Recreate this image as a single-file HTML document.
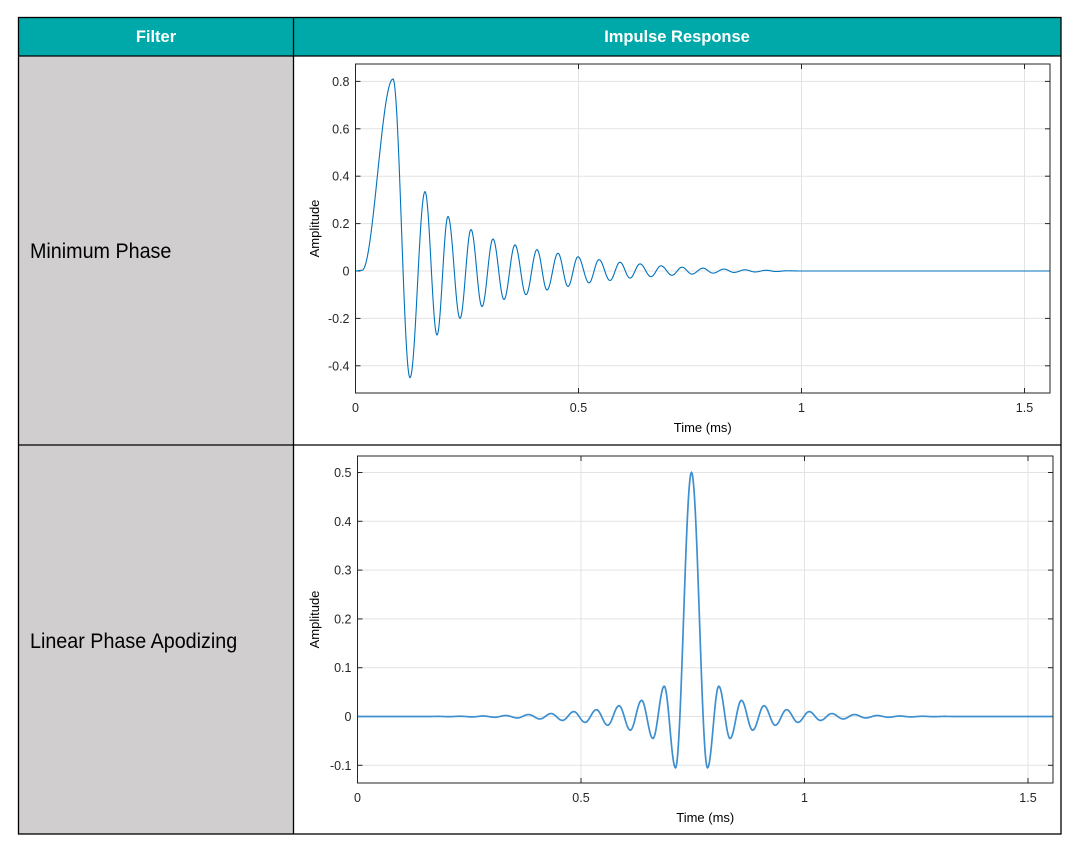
<!DOCTYPE html>
<html><head><meta charset="utf-8"><style>
body{margin:0;background:#fff;width:1078px;height:855px;overflow:hidden}
svg text{font-family:"Liberation Sans",Arial,sans-serif}
</style></head><body>
<svg id="s" width="1078" height="855" xmlns="http://www.w3.org/2000/svg">
<rect x="18" y="56" width="275" height="778" fill="#d0cece"/>
<rect x="18" y="17" width="1043" height="39" fill="#00a9a9"/>
<g stroke="#000" stroke-width="1.3" fill="none">
<rect x="18.5" y="17.5" width="1042.5" height="816.5"/>
<line x1="18" y1="56" x2="1061" y2="56"/>
<line x1="18" y1="445" x2="1061" y2="445"/>
<line x1="293.5" y1="17" x2="293.5" y2="834"/>
</g>
<text x="156" y="42" fill="#fff" font-size="17" font-weight="bold" text-anchor="middle" transform="translate(156 0) scale(0.97 1) translate(-156 0)">Filter</text>
<text x="677" y="42" fill="#fff" font-size="17" font-weight="bold" text-anchor="middle" transform="translate(677 0) scale(0.97 1) translate(-677 0)">Impulse Response</text>
<text x="30" y="258" font-size="21" fill="#000" transform="translate(30 0) scale(0.94 1) translate(-30 0)">Minimum Phase</text>
<text x="30" y="648" font-size="21" fill="#000" transform="translate(30 0) scale(0.94 1) translate(-30 0)">Linear Phase Apodizing</text>
<g id="p1"></g><g id="p2"></g>
</svg>
<script>
var NS="http://www.w3.org/2000/svg";
function el(p,t,a,txt){var e=document.createElementNS(NS,t);for(var k in a)e.setAttribute(k,a[k]);if(txt!=null)e.textContent=txt;p.appendChild(e);return e;}
function plot(g,L,T,R,B,x0,pxms,y0,pyu,yt,ylab,pts,col,sw){
 var xt=[0,0.5,1,1.5];
 xt.forEach(function(v){var x=x0+v*pxms;el(g,'line',{x1:x,y1:T,x2:x,y2:B,stroke:'#e3e3e3'});
  el(g,'line',{x1:x,y1:B,x2:x,y2:B-5,stroke:'#262626'});el(g,'line',{x1:x,y1:T,x2:x,y2:T+5,stroke:'#262626'});
  el(g,'text',{x:x,y:B+19,'font-size':12.5,'text-anchor':'middle',fill:'#262626'},v);});
 yt.forEach(function(v){var y=y0-v*pyu;el(g,'line',{x1:L,y1:y,x2:R,y2:y,stroke:'#e3e3e3'});
  el(g,'line',{x1:L,y1:y,x2:L+5,y2:y,stroke:'#262626'});el(g,'line',{x1:R,y1:y,x2:R-5,y2:y,stroke:'#262626'});
  el(g,'text',{x:L-6,y:y+4.5,'font-size':12.5,'text-anchor':'end',fill:'#262626'},ylab(v));});
 var d='M'+L+' '+(y0);
 for(var x=L;x<=R;x+=0.5){var v=0;
  for(var i=0;i<pts.length-1;i++){if(x>=pts[i][0]&&x<=pts[i+1][0]){var f=(x-pts[i][0])/(pts[i+1][0]-pts[i][0]);f=(1-Math.cos(Math.PI*f))/2;v=pts[i][1]+(pts[i+1][1]-pts[i][1])*f;break;}}
  d+=' L'+x+' '+(y0-v*pyu).toFixed(2);}
 el(g,'path',{d:d,fill:'none',stroke:col,'stroke-width':sw});
 el(g,'rect',{x:L,y:T,width:R-L,height:B-T,fill:'none',stroke:'#262626','stroke-width':1});
 el(g,'text',{x:(L+R)/2,y:B+39,'font-size':13,'text-anchor':'middle',fill:'#000'},'Time (ms)');
 var cy=(T+B)/2;el(g,'text',{x:319,y:cy,'font-size':13,'text-anchor':'middle',fill:'#000',transform:'rotate(-90 319 '+cy+')'},'Amplitude');
}
function lab(v){return (Math.round(v*10)/10).toString();}
var P=[[355,0],[362,0.003],[393,0.81],[410,-0.45],[425,0.335],[437,-0.27],[448,0.23],[460,-0.2],[471,0.175],[482,-0.15],[493,0.135],[504,-0.12],[515,0.11],[526,-0.1],[537,0.09],[547,-0.08],[558,0.075],[568,-0.065],[578,0.06],[589,-0.05],[599,0.048],[610,-0.04],[620,0.037],[630,-0.03],[640,0.03],[651,-0.024],[661,0.022],[672,-0.018],[682,0.016],[692,-0.013],[703,0.012],[713,-0.009],[724,0.008],[734,-0.006],[745,0.005],[755,-0.004],[766,0.003],[776,-0.002],[787,0.001],[800,0],[1050,0]];
plot(document.getElementById('p1'),355.5,64,1050,393,355.5,446,271,237,[0.8,0.6,0.4,0.2,0,-0.2,-0.4],lab,P,'#0072bd',1.1);
var mags=[0.5,-0.105,0.062,-0.045,0.033,-0.028,0.022,-0.018,0.014,-0.012,0.01,-0.008,0.006,-0.005,0.004,-0.003,0.002,-0.0015,0.001,-0.0008,0.0005,-0.0003,0.0002];
var Q=[[357,0]],c=691.5,hs=11.3;
var side=[];for(var k=mags.length-1;k>=1;k--){side.push([c-(k===1?16:16+(k-1)*hs),mags[k]]);}
Q=Q.concat([[c-16-(mags.length-1)*hs,0]],side,[[c,0.5]]);
for(var k=1;k<mags.length;k++){Q.push([c+(k===1?16:16+(k-1)*hs),mags[k]]);}
Q.push([c+16+(mags.length-1)*hs,0]);Q.push([1053,0]);
plot(document.getElementById('p2'),357.5,456,1053,783,357.5,447,716.5,488,[0.5,0.4,0.3,0.2,0.1,0,-0.1],lab,Q,'#3d8fcf',1.7);
</script>
</body></html>
